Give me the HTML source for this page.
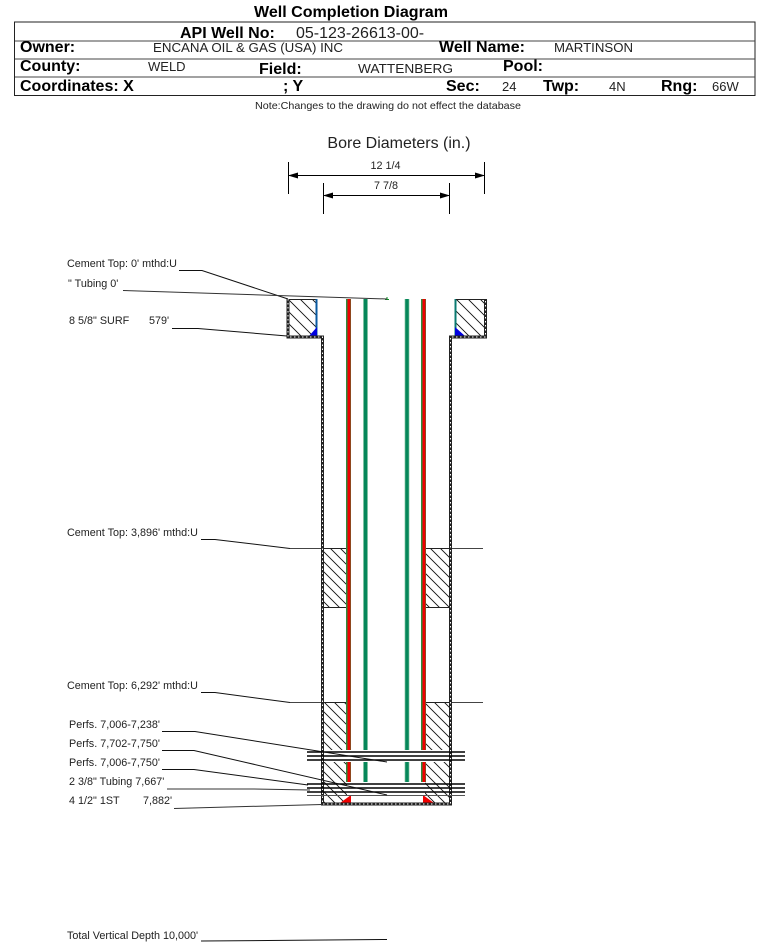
<!DOCTYPE html>
<html><head><meta charset="utf-8">
<style>
html,body{margin:0;padding:0;background:#fff;width:759px;height:943px;overflow:hidden}
svg{display:block}
text{font-family:"Liberation Sans",sans-serif;fill:#000}
.b{font-weight:bold;font-size:16px}
.v{font-size:13px;fill:#222}
.l{font-size:10.8px;fill:#222}
</style></head><body>
<svg width="759" height="943" viewBox="0 0 759 943" xmlns="http://www.w3.org/2000/svg">
<defs>
<pattern id="h" width="10" height="10" patternUnits="userSpaceOnUse" patternTransform="translate(2 0)">
<path d="M-2 -2L12 12M-2 8L2 12M8 -2L12 2" stroke="#111" stroke-width="0.9" fill="none"/>
</pattern>
<pattern id="h2" width="12" height="12" patternUnits="userSpaceOnUse" patternTransform="translate(1 0)">
<path d="M-2 -2L14 14M-2 10L2 14M10 -2L14 2" stroke="#111" stroke-width="0.9" fill="none"/>
</pattern>
<marker id="a" markerWidth="10" markerHeight="6" refX="9" refY="3" orient="auto-start-reverse" markerUnits="userSpaceOnUse"><path d="M0 0L10 3L0 6Z" fill="#000"/></marker>
</defs>

<!-- header -->
<text x="254" y="17" style="font-weight:bold;font-size:16px" textLength="194" lengthAdjust="spacingAndGlyphs">Well Completion Diagram</text>
<rect x="14.5" y="22" width="740.5" height="73.5" fill="none" stroke="#222" stroke-width="1"/>
<path d="M15 41H755M15 59H755M15 77H755" stroke="#444" stroke-width="1" fill="none"/>
<text x="180" y="38" class="b">API Well No:</text>
<text x="296" y="38" style="font-size:16px;fill:#222">05-123-26613-00-</text>
<text x="20" y="52" class="b">Owner:</text>
<text x="153" y="52" class="v" textLength="190" lengthAdjust="spacingAndGlyphs">ENCANA OIL &amp; GAS (USA) INC</text>
<text x="439" y="52" class="b">Well Name:</text>
<text x="554" y="52" class="v" textLength="79" lengthAdjust="spacingAndGlyphs">MARTINSON</text>
<text x="20" y="71" class="b">County:</text>
<text x="148" y="71" class="v">WELD</text>
<text x="259" y="74" class="b">Field:</text>
<text x="358" y="73" class="v" textLength="95" lengthAdjust="spacingAndGlyphs">WATTENBERG</text>
<text x="503" y="71" class="b">Pool:</text>
<text x="20" y="91" class="b">Coordinates: X</text>
<text x="283" y="91" class="b">; Y</text>
<text x="446" y="91" class="b">Sec:</text>
<text x="502" y="91" class="v">24</text>
<text x="543" y="91" class="b">Twp:</text>
<text x="609" y="91" class="v">4N</text>
<text x="661" y="91" class="b">Rng:</text>
<text x="712" y="91" class="v">66W</text>
<text x="255" y="109" style="font-size:10.5px;fill:#222" textLength="266" lengthAdjust="spacingAndGlyphs">Note:Changes to the drawing do not effect the database</text>

<!-- dims -->
<text x="399" y="148" text-anchor="middle" style="font-size:16px;fill:#222">Bore Diameters (in.)</text>
<text x="385.5" y="169" text-anchor="middle" class="l">12 1/4</text>
<text x="386" y="189" text-anchor="middle" class="l">7 7/8</text>
<path d="M288.5 162V194M484.5 162V194M323.5 183V214M449.5 183V214" stroke="#000" fill="none"/>
<line x1="289" y1="175.5" x2="484" y2="175.5" stroke="#000" marker-start="url(#a)" marker-end="url(#a)"/>
<line x1="324" y1="195.5" x2="449" y2="195.5" stroke="#000" marker-start="url(#a)" marker-end="url(#a)"/>

<!-- hatch areas -->
<rect x="288" y="299" width="29" height="37" fill="url(#h2)"/>
<rect x="456" y="299" width="29" height="37" fill="url(#h2)"/>
<rect x="323" y="548" width="24" height="60" fill="url(#h)"/>
<rect x="425" y="548" width="25" height="60" fill="url(#h)"/>
<rect x="323" y="702" width="24" height="101" fill="url(#h)"/>
<rect x="425" y="702" width="25" height="101" fill="url(#h)"/>
<rect x="323" y="750" width="127" height="12" fill="#fff"/>
<path d="M288 299.5H317M456 299.5H485M323 548.5H347M425 548.5H450M323 607.5H347M425 607.5H450M323 702.5H347M425 702.5H450" stroke="#222" fill="none"/>
<path d="M290 548.5H323M450 548.5H483M290 702.5H323M450 702.5H483" stroke="#444" fill="none"/>

<!-- surface casing blue -->
<path d="M316.5 299V336" stroke="#0a5aa0" stroke-width="2"/>
<path d="M455.5 299V336" stroke="#0a7a70" stroke-width="2"/>
<path d="M317 327L317 336L309 336Z" fill="#0000e0"/>
<path d="M455 327L455 336L465 336Z" fill="#0000e0"/>

<!-- casing -->
<g fill="none">
<path d="M348.5 299V750M348.5 762V782" stroke="#2e8b3c" stroke-width="5"/>
<path d="M349 299V750M349 762V782" stroke="#f00000" stroke-width="3"/>
<path d="M423.5 299V750M423.5 762V782" stroke="#2e8b3c" stroke-width="5"/>
<path d="M424 299V750M424 762V782" stroke="#f00000" stroke-width="3"/>
<path d="M365.5 299V750M365.5 762V782M407 299V750M407 762V782" stroke="#a9d6bb" stroke-width="5"/>
<path d="M365.5 299V750M365.5 762V782M407 299V750M407 762V782" stroke="#06875a" stroke-width="3.5"/>
</g>
<path d="M351 795V803H340Z" fill="#f00000"/>
<path d="M423 795V803H434Z" fill="#f00000"/>
<path d="M387 297V300M385 299.5H389" stroke="#0a8a20" fill="none"/>

<!-- walls -->
<g fill="none">
<path d="M288 299V337H322.5V804H450.5V337H485.5V299" stroke="#222" stroke-width="3"/>
<path d="M288 299V337H322.5V804H450.5V337H485.5V299" stroke="#fff" stroke-width="1" stroke-dasharray="1.5 2.5"/>
<path d="M456 299.5H485" stroke="#222"/>
</g>

<!-- perforation lines -->
<g stroke="#000" fill="none">
<path d="M307 752H465M307 756H465M307 760H465" stroke-width="1.6"/>
<path d="M307 784H465M307 788H465M307 792H465" stroke-width="1.6"/>
<path d="M307 795.5H465" stroke="#555" stroke-width="1"/>
</g>

<!-- leaders -->
<g fill="none" stroke="#111" stroke-width="1">
<path d="M179 270.5H202L288 299"/>
<path d="M123 290.5L387 299" stroke="#333"/>
<path d="M172 328.5H198L287 336"/>
<path d="M201 539.5H215L290 548.5"/>
<path d="M201 692.5H215L290 702.5"/>
<path d="M162 731.5H195L387 762"/>
<path d="M162 750.5H194L387 795"/>
<path d="M162 769.5H194L308 785"/>
<path d="M167 789H253L310 790" stroke="#333"/>
<path d="M174 808.5L322 804.5" stroke="#333"/>
<path d="M201 941L387 939.5"/>
</g>

<!-- labels -->
<text x="67" y="267" class="l">Cement Top: 0' mthd:U</text>
<text x="68" y="287" class="l">" Tubing 0'</text>
<text x="69" y="324" class="l">8 5/8" SURF</text>
<text x="149" y="324" class="l">579'</text>
<text x="67" y="536" class="l">Cement Top: 3,896' mthd:U</text>
<text x="67" y="689" class="l">Cement Top: 6,292' mthd:U</text>
<text x="69" y="728" class="l">Perfs. 7,006-7,238'</text>
<text x="69" y="747" class="l">Perfs. 7,702-7,750'</text>
<text x="69" y="766" class="l">Perfs. 7,006-7,750'</text>
<text x="69" y="785" class="l">2 3/8" Tubing 7,667'</text>
<text x="69" y="804" class="l">4 1/2" 1ST</text>
<text x="143" y="804" class="l">7,882'</text>
<text x="67" y="939" class="l">Total Vertical Depth 10,000'</text>
</svg>
</body></html>
